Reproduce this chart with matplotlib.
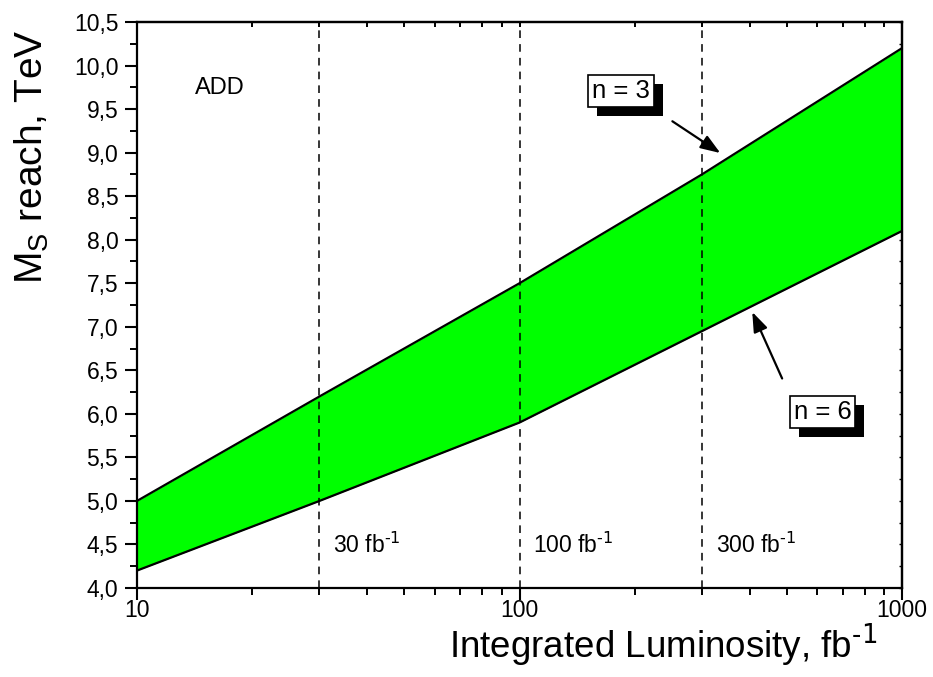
import matplotlib
matplotlib.use("Agg")
import matplotlib.pyplot as plt
from matplotlib.ticker import FuncFormatter, MultipleLocator, NullFormatter
from matplotlib.patches import Rectangle
from matplotlib.transforms import IdentityTransform

plt.rcParams['font.family'] = ['Liberation Sans', 'DejaVu Sans']

# Data
luminosity = [10, 30, 100, 300, 1000]
ms_n3 = [5.0, 6.2, 7.5, 8.75, 10.2]
ms_n6 = [4.2, 5.0, 5.9, 6.95, 8.1]
lumi_marks = [30, 100, 300]
lumi_labels = ["30 fb$^{\\text{-1}}$", "100 fb$^{\\text{-1}}$", "300 fb$^{\\text{-1}}$"]

fig = plt.figure(figsize=(9.33, 6.77), dpi=100)
ax = fig.add_axes([137/933, 1-588/677, (902-137)/933, (588-22)/677])

ax.fill_between(luminosity, ms_n6, ms_n3, color='#00ff00', lw=0, zorder=1)
ax.plot(luminosity, ms_n3, color='black', lw=1.6, zorder=2)
ax.plot(luminosity, ms_n6, color='black', lw=1.6, zorder=2)

for xm in lumi_marks:
    ax.axvline(xm, color='black', lw=1.1, ls=(0, (5, 4)), zorder=3)

ax.set_xscale('log')
ax.set_xlim(10, 1000)
ax.set_ylim(4.0, 10.5)

ax.yaxis.set_major_locator(MultipleLocator(0.5))
ax.yaxis.set_minor_locator(MultipleLocator(0.25))
ax.yaxis.set_major_formatter(FuncFormatter(lambda v, p: f"{v:.1f}".replace('.', ',')))
ax.xaxis.set_major_formatter(FuncFormatter(lambda v, p: f"{int(round(v))}"))
ax.xaxis.set_minor_formatter(NullFormatter())

ax.tick_params(axis='both', which='major', labelsize=16.5, width=1.5, length=8.5, pad=5,
               direction='out', top=False, right=False)
ax.tick_params(axis='x', which='major', pad=-0.5)
ax.tick_params(axis='both', which='minor', width=1.4, length=5, direction='out', top=False, right=False)

ax_top = ax.secondary_xaxis('top')
ax_top.xaxis.set_major_formatter(NullFormatter())
ax_top.xaxis.set_minor_formatter(NullFormatter())
ax_top.tick_params(axis='x', which='both', direction='in', labeltop=False, length=3.8, width=1.4)

ax_right = ax.secondary_yaxis('right')
ax_right.yaxis.set_major_locator(MultipleLocator(0.5))
ax_right.yaxis.set_minor_locator(MultipleLocator(0.25))
ax_right.yaxis.set_major_formatter(NullFormatter())
ax_right.tick_params(axis='y', which='both', direction='in', labelright=False, length=2.2, width=1.0)

for a in (ax, ax_top, ax_right):
    for s in a.spines.values():
        s.set_linewidth(1.6)

ax.set_xlabel("Integrated Luminosity, fb$^{\\text{-1}}$", fontsize=26.5, va='top')
ax.xaxis.set_label_coords(0.688, -0.059)
ax.set_ylabel("M$_\\mathregular{S}$ reach, TeV", fontsize=28)
ax.yaxis.set_label_coords(-0.112, 0.762)

ax.text(14.2, 9.74, "ADD", fontsize=17, va='center', ha='left')

for xm, lab in zip(lumi_marks, lumi_labels):
    ax.text(xm * 1.085, 4.49, lab, fontsize=16.5, va='center', ha='left')

boxes = []
def shadow_label(x, y, s):
    t = ax.text(x, y, s, fontsize=18.5, ha='center', va='center', color='black',
                bbox=dict(boxstyle='square,pad=0.15', fc='white', ec='black', lw=1.2), zorder=6)
    boxes.append(t)

shadow_label(184, 9.71, "n = 3")
shadow_label(620, 6.02, "n = 6")

ax.annotate("", xy=(335, 8.995), xytext=(251, 9.36),
            arrowprops=dict(arrowstyle='-|>,head_length=0.6,head_width=0.22', color='black',
                            lw=1.6, mutation_scale=20, shrinkA=0, shrinkB=0), zorder=7)
ax.annotate("", xy=(406, 7.17), xytext=(486, 6.406),
            arrowprops=dict(arrowstyle='-|>,head_length=0.6,head_width=0.22', color='black',
                            lw=1.6, mutation_scale=20, shrinkA=0, shrinkB=0), zorder=7)

fig.canvas.draw()
renderer = fig.canvas.get_renderer()
for t in boxes:
    bb = t.get_bbox_patch().get_window_extent(renderer)
    sh = Rectangle((bb.x0 + 9, bb.y0 - 9), bb.width, bb.height,
                   facecolor='black', edgecolor='none', zorder=5)
    ax.add_artist(sh)
    sh.set_transform(IdentityTransform())
    sh.set_clip_on(False)

fig.savefig("out.png", dpi=100)
